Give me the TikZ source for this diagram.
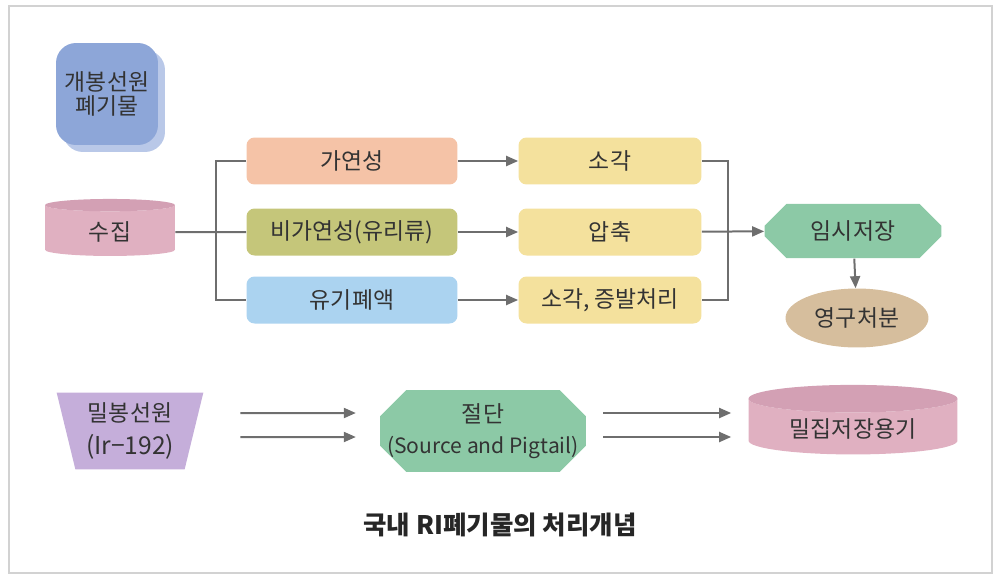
\documentclass[tikz,border=0pt]{standalone}
\usepackage{fontspec}
\setmainfont{Noto Sans CJK KR}
\usetikzlibrary{shapes.geometric,shapes.misc,shadows,arrows.meta}

\definecolor{srcblue}{HTML}{8DA6D8}
\definecolor{srcshade}{HTML}{B9C8E8}
\definecolor{pinkbody}{HTML}{E0B0C1}
\definecolor{pinktop}{HTML}{D3A0B4}
\definecolor{peach}{HTML}{F5C3A7}
\definecolor{olive}{HTML}{C5C67A}
\definecolor{skyblue}{HTML}{ABD3F0}
\definecolor{lightyellow}{HTML}{F4E19D}
\definecolor{mint}{HTML}{8CC9A6}
\definecolor{tan}{HTML}{D6BE9D}
\definecolor{lavender}{HTML}{C5AEDA}
\definecolor{linegray}{HTML}{6E6E6E}
\definecolor{textgray}{HTML}{333333}

\tikzset{
  txt/.style={text=textgray, font=\fontsize{13}{15}\selectfont},
  stepbox/.style={txt, fill=#1, rounded corners=0.16cm, minimum width=4.22cm, minimum height=0.94cm},
  treatbox/.style={txt, fill=lightyellow, rounded corners=0.16cm, minimum width=3.66cm, minimum height=0.94cm},
  drum/.style={txt, cylinder, shape border rotate=90, cylinder uses custom fill, cylinder body fill=pinkbody, cylinder end fill=pinktop},
  cutbox/.style={txt, chamfered rectangle, fill=mint},
  flow/.style={draw=linegray, line width=0.04cm},
  arr/.style={flow, -{Triangle[length=0.24cm, width=0.2cm]}}
}

\begin{document}
\begin{tikzpicture}[x=0.02cm, y=-0.02cm]
\useasboundingbox (0,0) rectangle (994,575);
\draw [gray!35, line width=0.04cm] (9,6) rectangle (992,573);

\node (src) at (107,94) [txt, fill=srcblue, rounded corners=0.4cm, minimum size=2.04cm, align=center,
  general shadow={fill=srcshade, shadow xshift=0.14cm, shadow yshift=-0.14cm}]{개봉선원\\[-1pt]폐기물};

\node (col) at (110,232) [drum, minimum width=2.6cm, minimum height=1.14cm, aspect=0.23]{수집};

\node (b1) at (352,161) [stepbox=peach]{가연성};
\node (b2) at (352,232) [stepbox=olive]{비가연성(유리류)};
\node (b3) at (352,300) [stepbox=skyblue]{유기폐액};

\node (y1) at (610,161) [treatbox]{소각};
\node (y2) at (610,232) [treatbox]{압축};
\node (y3) at (610,300) [treatbox]{소각, 증발처리};

\node (tmp) at (853,231) [cutbox, minimum width=3.54cm, minimum height=0.96cm,
  chamfered rectangle xsep=0.22cm, chamfered rectangle ysep=0.22cm]{임시저장};
\node (perm) at (857,318) [txt, ellipse, fill=tan, minimum width=2.86cm, minimum height=1.18cm, inner sep=0pt]{영구처분};

\node (seal) at (130,431) [txt, trapezium, shape border rotate=180, trapezium angle=76, trapezium stretches=true,
  fill=lavender, minimum width=2.94cm, minimum height=1.54cm, align=center]{밀봉선원\\[4pt]\fontsize{14}{15}\selectfont(Ir−192)};
\node (cut) at (483,431) [cutbox, minimum width=4.06cm, minimum height=1.54cm, align=center, inner xsep=-0.12cm, inner ysep=0pt,
  chamfered rectangle xsep=0.26cm, chamfered rectangle ysep=0.26cm]{절단\\[3pt]\fontsize{12}{15}\selectfont(Source and Pigtail)};
\node (box) at (853,429) [drum, minimum width=4.18cm, minimum height=1.26cm, aspect=0.2]{밀집저장용기};

\node (cap) at (500,525) [text=black!85, font=\fontsize{14.5}{16}\selectfont\bfseries]{국내 RI폐기물의 처리개념};

% collect -> three kinds
\coordinate (j) at (216,232);
\draw [flow] (col.east) -- (b2.west);
\draw [flow] (b1.west) -| (j) |- (b3.west);

\draw [arr] (b1) -- (y1);
\draw [arr] (b2) -- (y2);
\draw [arr] (b3) -- (y3);

% treated -> storage
\coordinate (k) at (728,232);
\draw [flow] (y1.east) -| (k) |- (y3.east);
\draw [arr] (y2) -- (tmp);
\draw [arr] (tmp) -- (perm);

% sealed sources
\draw [arr, shorten <=0.92cm, shorten >=0.48cm] ([yshift=0.36cm]seal.east) -- ([yshift=0.36cm]cut.west);
\draw [arr, shorten <=0.92cm, shorten >=0.48cm] ([yshift=-0.12cm]seal.east) -- ([yshift=-0.12cm]cut.west);
\draw [arr, shorten <=0.34cm, shorten >=0.34cm] ([yshift=0.36cm]cut.east) -- ([yshift=0.36cm]cut.east -| box.west);
\draw [arr, shorten <=0.34cm, shorten >=0.34cm] ([yshift=-0.12cm]cut.east) -- ([yshift=-0.12cm]cut.east -| box.west);

\end{tikzpicture}
\end{document}
